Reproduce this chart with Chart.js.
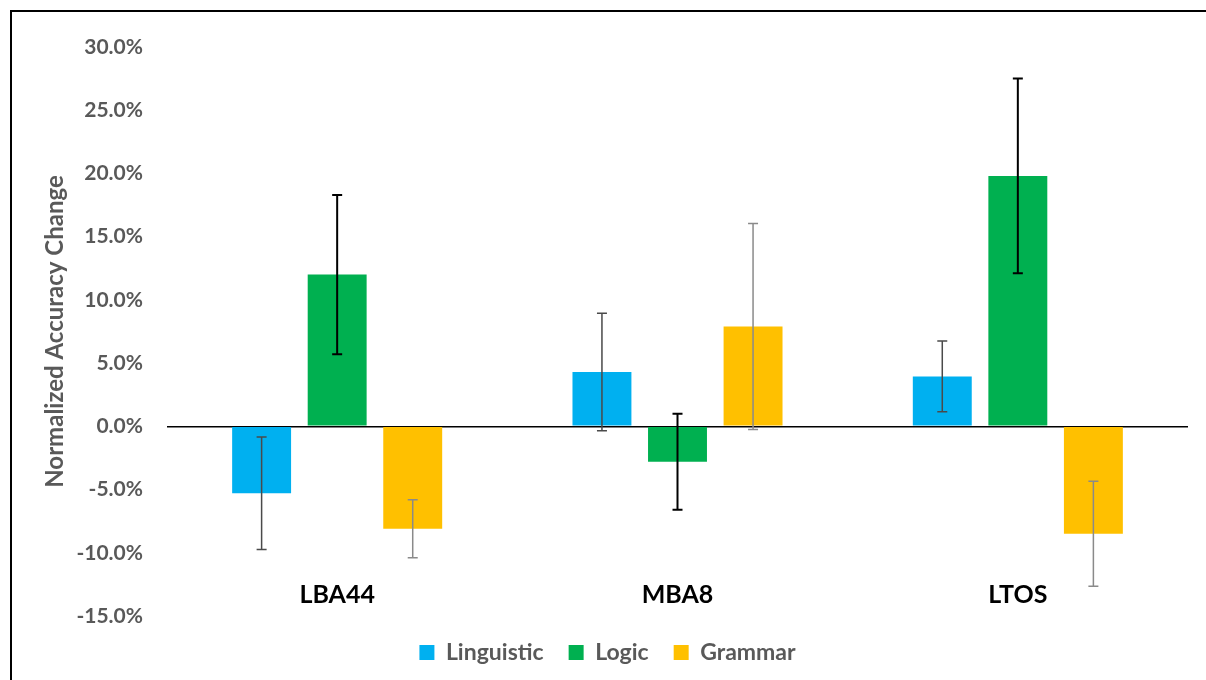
<!DOCTYPE html>
<html>
<head>
<meta charset="utf-8">
<script src="https://cdn.jsdelivr.net/npm/chart.js@4.4.1/dist/chart.umd.min.js"></script>
<style>
  html, body { margin: 0; padding: 0; background: #fff; overflow: hidden; }
  #frame { position: absolute; left: 10px; top: 10px; width: 1400px; height: 900px;
           border-top: 2px solid #000; border-left: 2px solid #000; }
  #wrap { position: absolute; left: 0; top: 0; width: 1206px; height: 680px; }
</style>
</head>
<body>
<div id="frame"></div>
<div id="wrap"><canvas id="c"></canvas></div>
<script>
const categories = ["LBA44", "MBA8", "LTOS"];
const seriesNames = ["Linguistic", "Logic", "Grammar"];
const linguistic = [-5.3, 4.3, 3.95];
const logic = [12.0, -2.8, 19.8];
const grammar = [-8.1, 7.9, -8.5];
const linguisticErr = [4.45, 4.65, 2.8];
const logicErr = [6.3, 3.8, 7.7];
const grammarErr = [2.3, 8.15, 4.15];
const yTicks = [-15, -10, -5, 0, 5, 10, 15, 20, 25, 30];

const colors = ["#00B0F0", "#00B050", "#FFC000"];
const errColors = ["#4a4a4a", "#000000", "#8a8a8a"];
const errWidths = [1.5, 2, 1.5];

const errorBarPlugin = {
  id: 'errorBars',
  afterDatasetsDraw(chart) {
    const ctx = chart.ctx;
    const y = chart.scales.y;
    chart.data.datasets.forEach((ds, di) => {
      const meta = chart.getDatasetMeta(di);
      ctx.save();
      ctx.strokeStyle = errColors[di];
      ctx.lineWidth = errWidths[di];
      meta.data.forEach((bar, i) => {
        const v = ds.data[i], e = ds.errors[i];
        const yTop = y.getPixelForValue(v + e);
        const yBot = y.getPixelForValue(v - e);
        const x = bar.x;
        ctx.beginPath();
        ctx.moveTo(x, yTop); ctx.lineTo(x, yBot);
        ctx.moveTo(x - 5, yTop); ctx.lineTo(x + 5, yTop);
        ctx.moveTo(x - 5, yBot); ctx.lineTo(x + 5, yBot);
        ctx.stroke();
      });
      ctx.restore();
    });
  }
};

const seriesValues = [linguistic, logic, grammar];
const seriesErrors = [linguisticErr, logicErr, grammarErr];

new Chart(document.getElementById('c'), {
  type: 'bar',
  data: {
    labels: categories,
    datasets: seriesNames.map((n, i) => ({
      label: n,
      data: seriesValues[i],
      errors: seriesErrors[i],
      backgroundColor: colors[i],
      borderWidth: 0,
      categoryPercentage: 0.666,
      barPercentage: 0.78
    }))
  },
  options: {
    responsive: true,
    maintainAspectRatio: false,
    animation: false,
    devicePixelRatio: 1,
    layout: { padding: { left: 27, right: 18, top: 47, bottom: 6 } },
    plugins: {
      tooltip: { enabled: false },
      legend: {
        position: 'bottom',
        labels: {
          boxWidth: 15, boxHeight: 15, padding: 25,
          color: '#595959',
          font: { family: 'Lato', weight: 'bold', size: 23 }
        }
      }
    },
    scales: {
      x: {
        position: { y: -11.9 },
        grid: { display: false, drawTicks: false },
        border: { display: false },
        ticks: {
          padding: 3,
          color: '#000',
          font: { family: 'Lato', weight: 'bold', size: 25 }
        }
      },
      y: {
        min: -15, max: 30,
        z: 1,
        afterFit(scale) { scale.width = 140; },
        afterBuildTicks(scale) { scale.ticks = yTicks.map(v => ({ value: v })); },
        grid: {
          drawTicks: false,
          color: (c) => (c.tick && c.tick.value === 0) ? '#000' : 'rgba(0,0,0,0)',
          lineWidth: 1.5
        },
        border: { display: false },
        ticks: {
          padding: 24,
          color: '#595959',
          font: { family: 'Lato', weight: 'bold', size: 21 },
          callback: (v) => v.toFixed(1) + '%'
        },
        title: {
          display: true,
          text: 'Normalized Accuracy Change',
          color: '#595959',
          font: { family: 'Lato', weight: 'bold', size: 24 },
          padding: { top: 14, bottom: 4 }
        }
      }
    }
  },
  plugins: [errorBarPlugin]
});
</script>
</body>
</html>
